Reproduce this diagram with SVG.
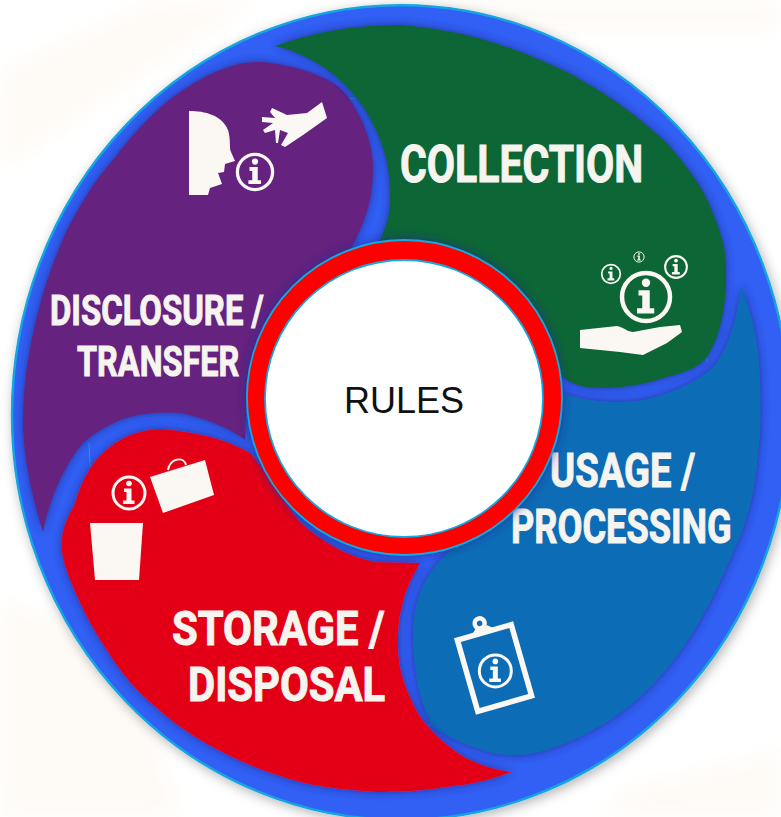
<svg xmlns="http://www.w3.org/2000/svg" width="781" height="817" viewBox="0 0 781 817">
<style>
.lbl{font-family:"Roboto","Liberation Sans",sans-serif;font-weight:700;fill:#f6f4ef;stroke:#f6f4ef;stroke-width:1}
.w{fill:#fbf8f4}
.seg{filter:url(#shade)}
.seam{fill:none;stroke:#1aa6b8;stroke-width:1}
</style>
<defs>
<filter id="shade" x="-10%" y="-10%" width="120%" height="120%"><feDropShadow dx="0" dy="0" stdDeviation="5" flood-color="#1c2a96" flood-opacity=".85"/></filter>
<filter id="outer" x="-5%" y="-5%" width="110%" height="110%"><feDropShadow dx="2" dy="3" stdDeviation="6" flood-color="#000" flood-opacity=".3"/></filter>
<filter id="soft" x="-20%" y="-20%" width="140%" height="140%"><feGaussianBlur stdDeviation="9"/></filter>
<g id="info"><circle r="16" fill="none" stroke="#fbf8f4" stroke-width="3"/><circle cy="-9.5" r="2.8" fill="#fbf8f4"/><path d="M-5-4.500H2.500V7.500H5.500V11H-6V7.500H-2.500V-1H-5Z" fill="#fbf8f4"/></g>
</defs>
<rect width="781" height="817" fill="#fff"/>
<g id="backdrop" fill="#fefbf7" filter="url(#soft)">
<path d="M0 70L150 0H260L0 170Z"/>
<path d="M0 600L130 640L180 817H0Z"/>
<path d="M380 0H781V30H380Z"/>
<path d="M620 790L781 750V817H600Z"/>
</g>
<g id="ring"><path d="M12 415A389 410 0 0 1 790 415A389 405 0 0 1 12 415Z" fill="#3060f4" stroke="#12a5e0" stroke-width="2.500" filter="url(#outer)"/></g>
<g id="seams">
<path class="seam" d="M347 99L365 97M89 443L90 467M428 725L448 723M705 343L707 362"/>
</g>
<g id="usage">
<path class="seg" fill="#106cb6" d="M741 285C752 315 760 345 760 385C761 420 760 440 758 453C755 490 750 510 740 537C725 570 715 595 700 620C680 655 660 680 633 703C615 718 595 730 573 740C555 748 535 755 517 755C500 755 490 753 483 750C465 745 448 737 433 727C420 705 413 670 413 633C413 615 416 605 420 593C425 578 435 566 443 557L500 500L563 393C580 400 600 402 620 402C640 402 655 398 670 392C690 385 705 375 715 365C730 345 738 315 741 285Z"/>
</g>
<g id="disposal">
<path class="seg" fill="#e30613" d="M62 537C65 520 68 518 75 503C80 485 88 470 96 460C108 447 120 438 136 433C150 429 160 428 171 430C190 432 205 435 221 440C232 444 242 448 250 453C270 475 285 505 300 522C320 540 345 556 375 562L420 563C412 578 405 590 402 607C398 620 398 635 398 647C398 662 402 678 407 690C412 702 418 715 425 723C438 738 450 748 464 757C480 765 495 770 512 772C490 780 470 785 446 787C425 791 400 792 375 792C350 790 325 788 304 783C280 777 255 768 232 757C210 746 190 735 171 720C150 703 133 688 118 667C105 648 93 630 82 607C72 585 65 570 62 553Z"/>
</g>
<g id="disclosure">
<path class="seg" fill="#65227f" d="M263 62C290 65 315 72 333 83C348 92 355 108 363 123C370 140 373 155 373 167C373 190 370 205 363 223C358 235 354 243 350 250L247 380L245 440C230 428 205 418 180 413C160 411 135 414 120 420C105 427 93 434 83 443C68 460 50 495 43 532C33 500 25 465 23 430C22 385 30 340 42 297C50 270 58 250 67 230C80 205 95 180 113 160C132 135 150 115 173 97C190 85 210 72 235 65C245 62 255 62 263 62Z"/>
</g>
<g id="collection">
<path class="seg" fill="#0a6634" d="M275 46C320 30 360 25 400 25C470 30 520 50 567 72C610 95 640 118 667 143C690 170 705 190 713 213C722 235 726 250 726 267C727 300 722 335 707 357C695 370 685 372 667 377C645 385 620 388 600 388C585 388 572 385 563 377L480 300L378 245C385 230 390 215 390 200C390 180 388 165 385 155C378 130 365 105 345 85C325 65 300 52 275 46Z"/>
<text class="lbl" transform="translate(400 182) scale(.76 1)" font-size="51" textLength="320" lengthAdjust="spacingAndGlyphs">COLLECTION</text>
<use href="#info" transform="translate(646 297) scale(1.5)"/>
<use href="#info" transform="translate(611 274) scale(.58)"/>
<use href="#info" transform="translate(676 267) scale(.68)"/>
<use href="#info" transform="translate(639 257) scale(.32)"/>
<path class="w" d="M580 330L617 326C625 328 628 332 633 332L660 327L680 325L682 332L667 343L643 355L620 352L580 348Z"/>
</g>
<g id="usage-art">
<text class="lbl" transform="translate(550 487) scale(.78 1)" font-size="48" textLength="186" lengthAdjust="spacingAndGlyphs">USAGE /</text>
<text class="lbl" transform="translate(511 543) scale(.78 1)" font-size="48" textLength="283" lengthAdjust="spacingAndGlyphs">PROCESSING</text>
<g transform="translate(494.500 668) rotate(-16)">
<rect x="-28" y="-37" width="56" height="74" fill="none" stroke="#fbf8f4" stroke-width="5.500"/>
<circle cx="-2" cy="-47" r="5" fill="#106cb6" stroke="#fbf8f4" stroke-width="4.500"/>
<path class="w" d="M-14-37L-7-43H5L12-37Z"/>
<use href="#info" transform="translate(0 3) rotate(16)"/>
</g>
</g>
<g id="disposal-art">
<text class="lbl" transform="translate(172 645) scale(.85 1)" font-size="48" textLength="250" lengthAdjust="spacingAndGlyphs">STORAGE /</text>
<text class="lbl" transform="translate(188 701) scale(.85 1)" font-size="48" textLength="232" lengthAdjust="spacingAndGlyphs">DISPOSAL</text>
<use href="#info" transform="translate(129 493)"/>
<path class="w" d="M90 523H143L139 580H95Z"/>
<path class="w" d="M150 477L205 460L214 495L163 513Z"/>
<path d="M168 470C170 458 184 456 186 465" fill="none" stroke="#fbf8f4" stroke-width="2"/>
</g>
<g id="disclosure-art">
<text class="lbl" transform="translate(50 325) scale(.78 1)" font-size="42" textLength="274" lengthAdjust="spacingAndGlyphs">DISCLOSURE /</text>
<text class="lbl" transform="translate(77 376) scale(.78 1)" font-size="42" textLength="208" lengthAdjust="spacingAndGlyphs">TRANSFER</text>
<path class="w" d="M189 111C205 111 222 115 228 130C231 140 229 148 231 152L235 161L225 164L224 172L218 173L222 184L210 188L208 195H189Z"/>
<use href="#info" transform="translate(255 172) scale(1.1)"/>
<path class="w" d="M322 102L327 118L303 135L285 147L281 145L288 133L280 130L278 143L276 143L275 130L265 133L263 130L273 123L262 122L262 117L275 118L270 112L272 108L287 115L307 113Z"/>
</g>
<g id="rules">
<circle cx="404.500" cy="397.500" r="157.500" fill="#fe0000" stroke="#12a8e0" stroke-width="1.800" filter="url(#shade)"/>
<ellipse cx="404" cy="398.500" rx="139" ry="138.500" fill="#fff" stroke="#12a8e0" stroke-width="1.800"/>
<text x="404" y="413" font-family="'Liberation Sans',Arial,sans-serif" font-size="36" text-anchor="middle" fill="#111">RULES</text>
</g>
</svg>
